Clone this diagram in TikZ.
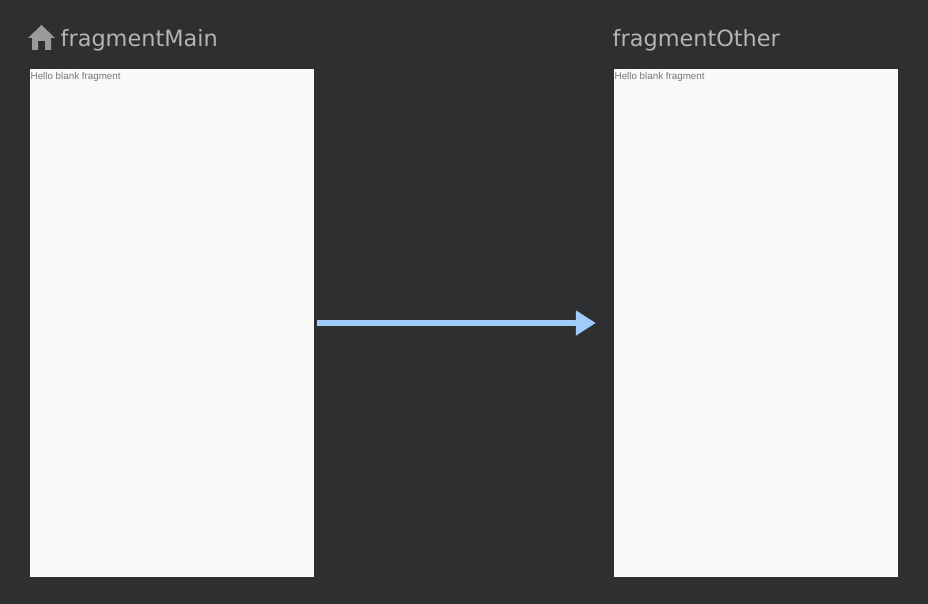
\documentclass[tikz,border=0pt]{standalone}
\usepackage{fontspec}
\setmainfont{DejaVu Sans}
\newfontfamily\hellofont{Liberation Sans}
\usetikzlibrary{arrows.meta}
\definecolor{canvasbg}{HTML}{2E2F31}
\definecolor{screenbg}{HTML}{FAFAFA}
\definecolor{titlegray}{HTML}{B4B4B4}
\definecolor{hellogray}{HTML}{757575}
\definecolor{homegray}{HTML}{9A9A9A}
\definecolor{actionblue}{HTML}{A0CBFB}
\tikzset{
  screen/.style={rectangle, fill=screenbg, inner sep=0pt, minimum width=284pt, minimum height=508pt},
  title/.style={anchor=base west, inner sep=0pt, text=titlegray, font=\fontsize{22.4}{23}\selectfont},
  hello/.style={anchor=base west, inner sep=0pt, text=hellogray, font=\hellofont\fontsize{9.8}{10}\selectfont},
  action/.style={draw=actionblue, line width=6pt, -{Triangle[length=20pt, width=24pt, fill=actionblue]}, shorten <=3pt, shorten >=18pt}
}
\begin{document}
\begin{tikzpicture}[x=1pt, y=-1pt]
  \useasboundingbox[fill=canvasbg] (0,0) rectangle (928,604);

  \node[screen] (main) at (172,323) {};
  \node[title] (maintitle) at (60.5,46.8) {fragmentMain};
  \node[hello] (mainhello) at (30.5,79.5) {Hello blank fragment};

  \node[screen] (other) at (756,323) {};
  \node[title] (othertitle) at (612.5,46.8) {fragmentOther};
  \node[hello] (otherhello) at (614.5,79.5) {Hello blank fragment};

  % home icon
  \fill[homegray] (41.5,25) -- (55,38) -- (51,38) -- (51,50) -- (45,50) -- (45,41) -- (38,41) -- (38,50) -- (32,50) -- (32,38) -- (28,38) -- cycle;

  \draw[action] (main) -- (other);
\end{tikzpicture}
\end{document}
